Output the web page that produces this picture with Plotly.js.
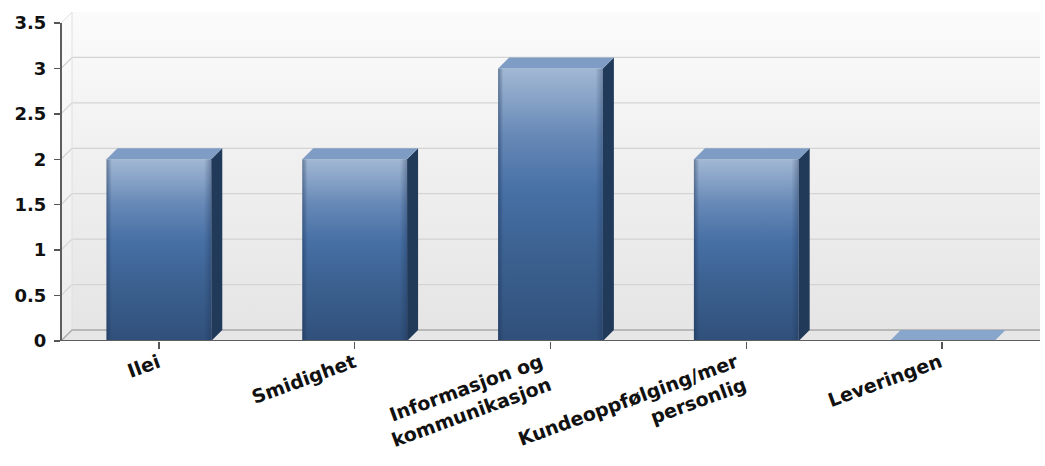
<!DOCTYPE html>
<html>
<head>
<meta charset="utf-8">
<script src="https://cdn.plot.ly/plotly-3.0.1.min.js"></script>
<style>html,body{margin:0;padding:0;background:#fff;}#chart{width:1045px;height:466px;}</style>
</head>
<body>
<div id="chart"></div>
<script>
// ---- data ----
const categories = ["Ilei", "Smidighet", "Informasjon og<br>kommunikasjon", "Kundeoppfølging/mer<br>personlig", "Leveringen"];
const values = [2, 2, 3, 2, 0];
const yTickValues = [0, 0.5, 1, 1.5, 2, 2.5, 3, 3.5];
const yTickLabels = ["0", "0.5", "1", "1.5", "2", "2.5", "3", "3.5"];

// ---- geometry (pseudo 3-D depth, in axis units) ----
const W = 1045, H = 466;
const M = {l: 61, r: 5, t: 12, b: 125};
const xMin = -0.5, xMax = categories.length - 0.5;
const yTop = yTickValues[yTickValues.length - 1];
const pxPerX = (W - M.l - M.r) / (xMax - xMin);
const depthPx = 11;
const DX = depthPx / pxPerX;
const pxPerY = (H - M.t - M.b - depthPx) / yTop;
const DY = depthPx / pxPerY;
const BW = 0.535;

const traces = [];
const poly = (xs, ys, extra) => Object.assign({
  type: 'scatter', mode: 'lines', x: xs.concat([xs[0]]), y: ys.concat([ys[0]]),
  fill: 'toself', line: {width: 0}, hoverinfo: 'skip', showlegend: false
}, extra);

// back wall
traces.push(poly([xMin + DX, xMax, xMax, xMin + DX], [DY, DY, yTop + DY, yTop + DY],
  {fillgradient: {type: 'vertical', colorscale: [[0, '#e5e5e5'], [0.5, '#efefef'], [1, '#fbfbfb']]}}));
// left wall
traces.push(poly([xMin, xMin + DX, xMin + DX, xMin], [0, DY, yTop + DY, yTop],
  {fillgradient: {type: 'vertical', colorscale: [[0, '#ebebeb'], [1, '#fcfcfc']]}}));
// floor
traces.push(poly([xMin, xMax, xMax, xMin + DX], [0, 0, DY, DY], {fillcolor: '#e6e6e6'}));

// gridlines on walls
const gx = [], gy = [];
yTickValues.forEach(v => {
  if (v === 0 || v === yTop) return;
  gx.push(xMin, xMin + DX, xMax, null);
  gy.push(v, v + DY, v + DY, null);
});
traces.push({type: 'scatter', mode: 'lines', x: gx, y: gy, line: {color: '#d4d4d4', width: 1.3},
  hoverinfo: 'skip', showlegend: false});
traces.push({type: 'scatter', mode: 'lines',
  x: [xMin, xMin + DX, null, xMin + DX, xMin + DX],
  y: [yTop, yTop + DY, null, DY, yTop + DY],
  line: {color: '#e0e0e0', width: 1}, hoverinfo: 'skip', showlegend: false});
// floor back edge
traces.push({type: 'scatter', mode: 'lines',
  x: [xMin, xMin + DX, xMax],
  y: [0, DY, DY],
  line: {color: '#a9a9a9', width: 1.3}, hoverinfo: 'skip', showlegend: false});

// base bar trace (front faces)
const xIdx = categories.map((c, i) => i);
traces.push({type: 'bar', x: xIdx, y: values, width: BW, marker: {color: '#4670a5', line: {width: 0}},
  hoverinfo: 'skip', showlegend: false});

values.forEach((v, i) => {
  const x0 = i - BW / 2, x1 = i + BW / 2;
  if (v > 0) {
    traces.push(poly([x0, x1, x1, x0], [0, 0, v, v], {fillgradient: {type: 'vertical',
      colorscale: [[0, '#30507a'], [0.35, '#3d6393'], [0.55, '#4770a5'], [0.75, '#6688b6'], [1, '#a2b8d4']]}}));
    traces.push(poly([x0, x1, x1, x0], [0, 0, v, v], {fillgradient: {type: 'horizontal',
      colorscale: [[0, 'rgba(25,45,80,0.45)'], [0.05, 'rgba(25,45,80,0)'], [0.93, 'rgba(25,45,80,0)'], [1, 'rgba(25,45,80,0.35)']]}}));
    traces.push(poly([x1, x1, x1 + DX, x1 + DX], [0, v, v + DY, DY], {fillcolor: '#223a5a'}));
  }
  traces.push(poly([x0, x1, x1 + DX, x0 + DX], [v, v, v + DY, v + DY], {fillcolor: v > 0 ? '#7e9cc4' : '#88a6cc'}));
});

const fontFamily = 'DejaVu Sans, Arial, sans-serif';
const tickFont = {family: fontFamily, size: 18, color: '#111', weight: 'bold'};
const catFont = {family: fontFamily, size: 19, color: '#111', weight: 'bold'};

// category labels, rotated, anchored below each tick
const annotations = categories.map((c, i) => ({
  xref: 'x', yref: 'y', x: i, y: 0, text: c, showarrow: false,
  textangle: -20, xanchor: 'right', yanchor: 'top', align: 'right',
  xshift: 6, yshift: -6, font: catFont
}));

const layout = {
  width: W, height: H,
  margin: M,
  paper_bgcolor: '#ffffff', plot_bgcolor: 'rgba(0,0,0,0)',
  showlegend: false,
  xaxis: {
    range: [xMin, xMax], tickmode: 'array', tickvals: xIdx, ticktext: categories,
    showticklabels: false,
    ticks: 'outside', ticklen: 7, tickwidth: 1.5, tickcolor: '#555',
    showgrid: false, zeroline: false, showline: false, fixedrange: true, automargin: false
  },
  yaxis: {
    range: [0, yTop + DY], tickmode: 'array', tickvals: yTickValues, ticktext: yTickLabels,
    ticks: 'outside', ticklen: 6, tickwidth: 1.5, tickcolor: '#555', ticklabelstandoff: 4,
    showgrid: false, zeroline: false, showline: false, fixedrange: true, automargin: false,
    tickfont: tickFont
  },
  annotations: annotations,
  shapes: [
    {type: 'line', xref: 'paper', yref: 'y', x0: 0, x1: 0, y0: 0, y1: yTop, line: {color: '#5e5e5e', width: 2}},
    {type: 'line', xref: 'paper', yref: 'y', x0: 0, x1: 1, y0: 0, y1: 0, line: {color: '#5e5e5e', width: 2}}
  ]
};

Plotly.newPlot('chart', traces, layout, {staticPlot: true, displayModeBar: false});
</script>
</body>
</html>
